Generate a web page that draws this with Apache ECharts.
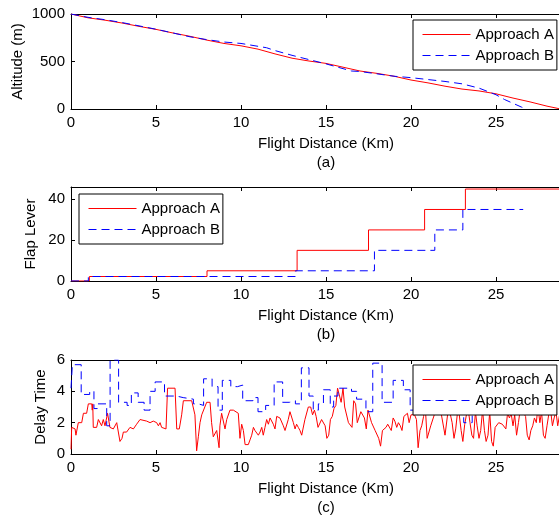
<!DOCTYPE html>
<html>
<head>
<meta charset="utf-8">
<script src="https://cdn.jsdelivr.net/npm/echarts@6/dist/echarts.min.js"></script>
<style>html,body{margin:0;padding:0;background:#fff;}#c{width:559px;height:515px;}</style>
</head>
<body>
<div id="c"></div>
<script>
// ---------- data ----------
const seriesNames = ['Approach A', 'Approach B'];
const xTicks = [0, 5, 10, 15, 20, 25, 30];

// (a) altitude
const altDistA = [0,1,2,3,4,5,6,7,8,9,10,11,12,13,14,15,16,17,18,19,20,21,22,23,24,25,26,27,28,28.8];
const altA = [1000,960,935,905,870,838,800,765,725,690,665,630,580,535,505,480,440,400,375,345,305,275,240,210,190,160,115,75,30,0];
const altDistB = [0,1,2,3,4,5,6,7,8,9,10,11,11.5,12,13,14,15,16,16.5,17,18,19,20,21,22,23,24,24.5,25,25.5,26,26.5,26.8];
const altB = [1000,965,940,910,875,840,800,760,730,705,690,660,645,615,565,520,475,425,400,395,370,345,330,310,290,265,220,185,150,100,60,20,0];

// (b) flap lever (step starts)
const flapDistA = [0, 1.08, 8.0, 13.3, 17.5, 20.8, 23.2, 30];
const flapA = [0, 2.2, 5, 15, 25, 35, 45, 45];
const flapDistB = [0, 1.02, 13.2, 17.85, 21.4, 23.05, 26.6];
const flapB = [0, 2.2, 5, 15, 25, 35, 35];

// (c) delay time
const delayA = [[0,0.3],[0.04,1.7],[0.14,1.7],[0.24,1.6],[0.29,1.2],[0.38,1.2],[0.43,2.0],[0.63,2.0],[0.73,2.6],[0.92,2.6],[1.02,3.2],[1.22,3.2],[1.25,2.8],[1.28,3.2],[1.31,1.7],[1.51,1.7],[1.61,2.2],[1.71,2.1],[1.8,1.8],[1.9,2.2],[2.0,1.8],[2.1,1.7],[2.15,2.6],[2.2,2.6],[2.29,1.7],[2.49,1.6],[2.69,2.0],[2.78,2.0],[2.88,0.8],[3.0,1.0],[3.08,1.4],[3.27,1.4],[3.47,1.7],[3.67,1.6],[3.86,1.9],[4.06,2.2],[4.45,2.1],[4.65,2.0],[4.84,2.1],[5.04,2.0],[5.14,1.8],[5.24,2.0],[5.33,1.7],[5.43,1.6],[5.59,1.6],[5.68,4.2],[6.12,4.2],[6.22,1.6],[6.37,1.6],[6.51,2.5],[6.61,3.4],[7.1,3.4],[7.2,3.3],[7.29,2.5],[7.39,0.2],[7.49,1.1],[7.59,2.0],[7.69,2.5],[7.78,2.6],[7.98,3.3],[8.18,3.3],[8.27,2.0],[8.37,1.1],[8.47,1.0],[8.57,1.5],[8.71,0.4],[8.76,1.8],[8.86,2.6],[8.96,2.6],[9.06,1.6],[9.16,2.2],[9.25,2.1],[9.35,2.8],[9.55,2.8],[9.65,2.7],[9.84,2.6],[9.94,1.0],[10.04,1.9],[10.14,1.5],[10.24,0.6],[10.43,0.6],[10.53,0.9],[10.63,1.2],[10.73,1.7],[10.82,1.5],[10.92,1.6],[11.02,1.2],[11.12,1.4],[11.22,1.7],[11.31,1.2],[11.41,1.7],[11.51,2.2],[11.61,1.9],[11.71,2.3],[11.8,2.2],[11.9,1.9],[12.0,1.6],[12.1,2.4],[12.2,2.3],[12.29,2.3],[12.39,2.2],[12.49,1.8],[12.59,1.5],[12.69,1.5],[12.78,2.2],[12.88,2.7],[12.98,2.7],[13.08,2.0],[13.18,1.6],[13.27,1.9],[13.37,1.7],[13.47,1.5],[13.57,1.2],[13.67,1.2],[13.76,2.2],[13.86,2.2],[13.96,3.0],[14.1,3.0],[14.21,2.5],[14.32,2.8],[14.42,2.4],[14.53,1.7],[14.63,1.6],[14.74,2.2],[14.84,2.3],[14.95,1.8],[15.05,1.0],[15.16,1.2],[15.26,2.2],[15.37,2.4],[15.47,2.9],[15.58,3.1],[15.68,4.2],[15.79,4.1],[15.89,3.3],[16.0,4.2],[16.1,3.0],[16.21,2.9],[16.32,2.0],[16.42,2.0],[16.53,1.7],[16.63,3.4],[16.74,3.2],[16.84,2.0],[16.95,1.9],[17.05,2.7],[17.16,2.7],[17.26,2.3],[17.37,1.6],[17.47,2.8],[17.58,2.9],[17.68,2.0],[17.79,2.0],[17.89,1.5],[18.0,1.6],[18.1,1.0],[18.21,0.5],[18.32,1.5],[18.42,1.6],[18.53,1.7],[18.63,1.9],[18.74,2.0],[18.84,1.5],[18.95,2.3],[19.05,2.1],[19.16,1.7],[19.26,2.0],[19.37,1.8],[19.47,1.5],[19.58,2.4],[19.68,2.5],[19.79,2.6],[19.89,2.0],[20.0,2.5],[20.1,2.6],[20.21,2.5],[20.32,2.2],[20.42,0.4],[20.53,1.5],[20.63,1.8],[20.74,2.4],[20.84,3.0],[20.95,1.0],[21.05,1.0],[21.16,1.8],[21.26,1.9],[21.37,2.5],[21.47,2.8],[21.58,2.7],[21.68,2.8],[21.79,2.5],[21.89,2.5],[22.0,1.2],[22.1,1.2],[22.21,3.0],[22.32,2.5],[22.42,2.0],[22.53,1.0],[22.63,1.6],[22.74,2.7],[22.84,2.5],[22.95,1.5],[23.05,0.8],[23.16,1.9],[23.26,2.5],[23.37,2.8],[23.47,2.0],[23.58,1.2],[23.68,1.0],[23.79,2.7],[23.89,1.8],[24.0,1.0],[24.1,1.5],[24.21,2.8],[24.32,1.5],[24.42,0.8],[24.53,1.2],[24.63,2.7],[24.74,0.8],[24.84,0.5],[24.95,1.7],[25.05,1.8],[25.16,2.0],[25.26,2.0],[25.37,1.9],[25.47,1.8],[25.58,1.6],[25.68,2.6],[25.79,2.3],[25.89,2.6],[26.0,1.8],[26.1,2.5],[26.21,1.2],[26.32,2.0],[26.42,2.8],[26.53,2.7],[26.63,2.6],[26.74,2.4],[26.84,1.2],[26.95,0.9],[27.05,1.5],[27.16,1.8],[27.26,2.3],[27.37,2.0],[27.47,3.0],[27.58,2.0],[27.68,2.7],[27.79,1.2],[27.89,1.0],[28.0,1.8],[28.1,2.5],[28.21,2.8],[28.32,1.8],[28.42,2.3],[28.53,2.7],[28.63,1.8],[28.74,2.5],[28.85,2.9],[29.0,2.0]];
const delayB = [[0,4.2],[0.08,5.7],[0.6,3.8],[1.1,4.0],[1.35,2.9],[1.55,3.2],[2.1,1.8],[2.3,6.0],[2.8,3.3],[3.3,3.1],[3.55,3.9],[3.95,3.3],[4.3,2.8],[4.65,4.0],[4.95,4.6],[5.5,3.7],[6.2,3.6],[6.6,3.5],[7.2,3.2],[7.5,3.1],[7.8,4.8],[8.3,4.3],[8.65,2.8],[8.9,4.7],[9.4,4.3],[9.8,4.4],[10.1,3.4],[10.7,3.6],[11.0,2.7],[11.45,3.1],[11.95,4.6],[12.45,3.3],[12.85,3.4],[13.2,3.2],[13.55,5.5],[14.0,3.7],[14.25,2.8],[14.55,3.2],[14.85,4.1],[15.25,3.0],[15.45,3.7],[15.7,4.2],[16.5,4.0],[16.8,3.5],[17.35,2.7],[17.75,5.8],[18.3,3.3],[18.95,4.7],[19.55,4.1],[19.95,2.8],[20.5,3.5],[21.2,4.0],[22.0,3.2],[22.6,3.8],[23.1,2.0],[23.6,3.5],[24.4,4.2],[25.0,3.0],[25.8,3.9],[26.5,3.3],[27.3,4.4],[28.2,3.6],[30,3.6]];

// ---------- helpers ----------
const FONT = 'Liberation Sans, Arial, Helvetica, sans-serif';
const zip = (xs, ys) => xs.map((x, i) => [x, ys[i]]);
const RED = '#ff0000', BLUE = '#0000ff';
const dash = () => [8, 5];

const grids = [
  {left: 71, right: -22, top: 14, height: 95, outerBoundsMode: 'none', containLabel: false},
  {left: 71, right: -22, top: 187, height: 94, outerBoundsMode: 'none', containLabel: false},
  {left: 71, right: -22, top: 360, height: 94, outerBoundsMode: 'none', containLabel: false}
];
const subLabels = ['(a)', '(b)', '(c)'];
const plain = v => String(v);

const xAxes = [];
grids.forEach((g, i) => {
  xAxes.push({
    type: 'value', gridIndex: i, min: xTicks[0], max: xTicks[xTicks.length - 1], interval: 5,
    position: 'bottom',
    axisLine: {show: true, onZero: false, lineStyle: {color: '#000', width: 1}},
    axisTick: {show: true, inside: true, length: 4, lineStyle: {color: '#000'}},
    axisLabel: {color: '#000', fontSize: 15, fontFamily: FONT, margin: 6, formatter: plain},
    splitLine: {show: false},
    name: 'Flight Distance (Km)\n' + subLabels[i],
    nameLocation: 'middle', nameGap: 26, nameMoveOverlap: false,
    nameTextStyle: {color: '#000', fontSize: 15, fontFamily: FONT, lineHeight: 18.5}
  });
  xAxes.push({
    type: 'value', gridIndex: i, min: 0, max: 30, interval: 5, position: 'top',
    axisLine: {show: true, onZero: false, lineStyle: {color: '#000', width: 1}},
    axisTick: {show: true, inside: true, length: 4, lineStyle: {color: '#000'}},
    axisLabel: {show: false}, splitLine: {show: false}
  });
});

const yCommon = (i, min, max, interval, name, gap) => ({
  type: 'value', gridIndex: i, min, max, interval,
  axisLine: {show: true, onZero: false, lineStyle: {color: '#000', width: 1}},
  axisTick: {show: true, inside: true, length: 4, lineStyle: {color: '#000'}},
  axisLabel: {color: '#000', fontSize: 15, fontFamily: FONT, margin: 6, formatter: plain},
  splitLine: {show: false},
  name, nameLocation: 'middle', nameGap: gap, nameMoveOverlap: false,
  nameTextStyle: {color: '#000', fontSize: 15, fontFamily: FONT}
});

const yAxes = [
  yCommon(0, 0, 1000, 500, 'Altitude (m)', 46),
  yCommon(1, 0, 46, 20, 'Flap Lever', 33),
  yCommon(2, 0, 6, 2, 'Delay Time', 23)
];

const lineS = (name, data, xi, yi, color, dashed, width, extra) => Object.assign({
  type: 'line', name, data, xAxisIndex: xi, yAxisIndex: yi,
  symbol: 'none', showSymbol: false, animation: false,
  lineStyle: {color, width: width, type: dashed ? dash() : 'solid'},
  itemStyle: {color}
}, extra || {});

const series = [
  lineS(seriesNames[0], zip(altDistA, altA), 0, 0, RED, false, 1),
  lineS(seriesNames[1], zip(altDistB, altB), 0, 0, BLUE, true, 1),
  lineS(seriesNames[0], zip(flapDistA, flapA), 2, 1, RED, false, 1, {step: 'end'}),
  lineS(seriesNames[1], zip(flapDistB, flapB), 2, 1, BLUE, true, 1, {step: 'end'}),
  lineS(seriesNames[0], delayA, 4, 2, RED, false, 1),
  lineS(seriesNames[1], delayB, 4, 2, BLUE, true, 1, {step: 'end'})
];

// legend sample lines: same colour/width whether the item counts as active or not
const legendItem = (name, color, type) => ({
  name,
  itemStyle: {opacity: 0},
  lineStyle: {color, width: 1, type, inactiveColor: color, inactiveWidth: 1}
});
const makeLegend = (left, top) => ({
  orient: 'vertical',
  data: [legendItem(seriesNames[0], RED, 'solid'), legendItem(seriesNames[1], BLUE, dash())],
  left, top,
  backgroundColor: '#fff', borderColor: '#000', borderWidth: 1, borderRadius: 0,
  padding: [7, 3, 7, 9], itemGap: 6, itemWidth: 48, itemHeight: 15,
  inactiveColor: 'rgba(0,0,0,0)', inactiveBorderColor: 'rgba(0,0,0,0)', inactiveBorderWidth: 0,
  lineStyle: {inactiveColor: BLUE, inactiveWidth: 1},
  textStyle: {color: '#000', fontSize: 15, fontFamily: FONT},
  selectedMode: false
});
const legends = [makeLegend(413, 20), makeLegend(79, 194), makeLegend(413, 365)];

const chart = echarts.init(document.getElementById('c'), null, {renderer: 'canvas'});
chart.setOption({
  backgroundColor: '#fff',
  animation: false,
  grid: grids,
  xAxis: xAxes,
  yAxis: yAxes,
  legend: legends,
  series
});
</script>
</body>
</html>
